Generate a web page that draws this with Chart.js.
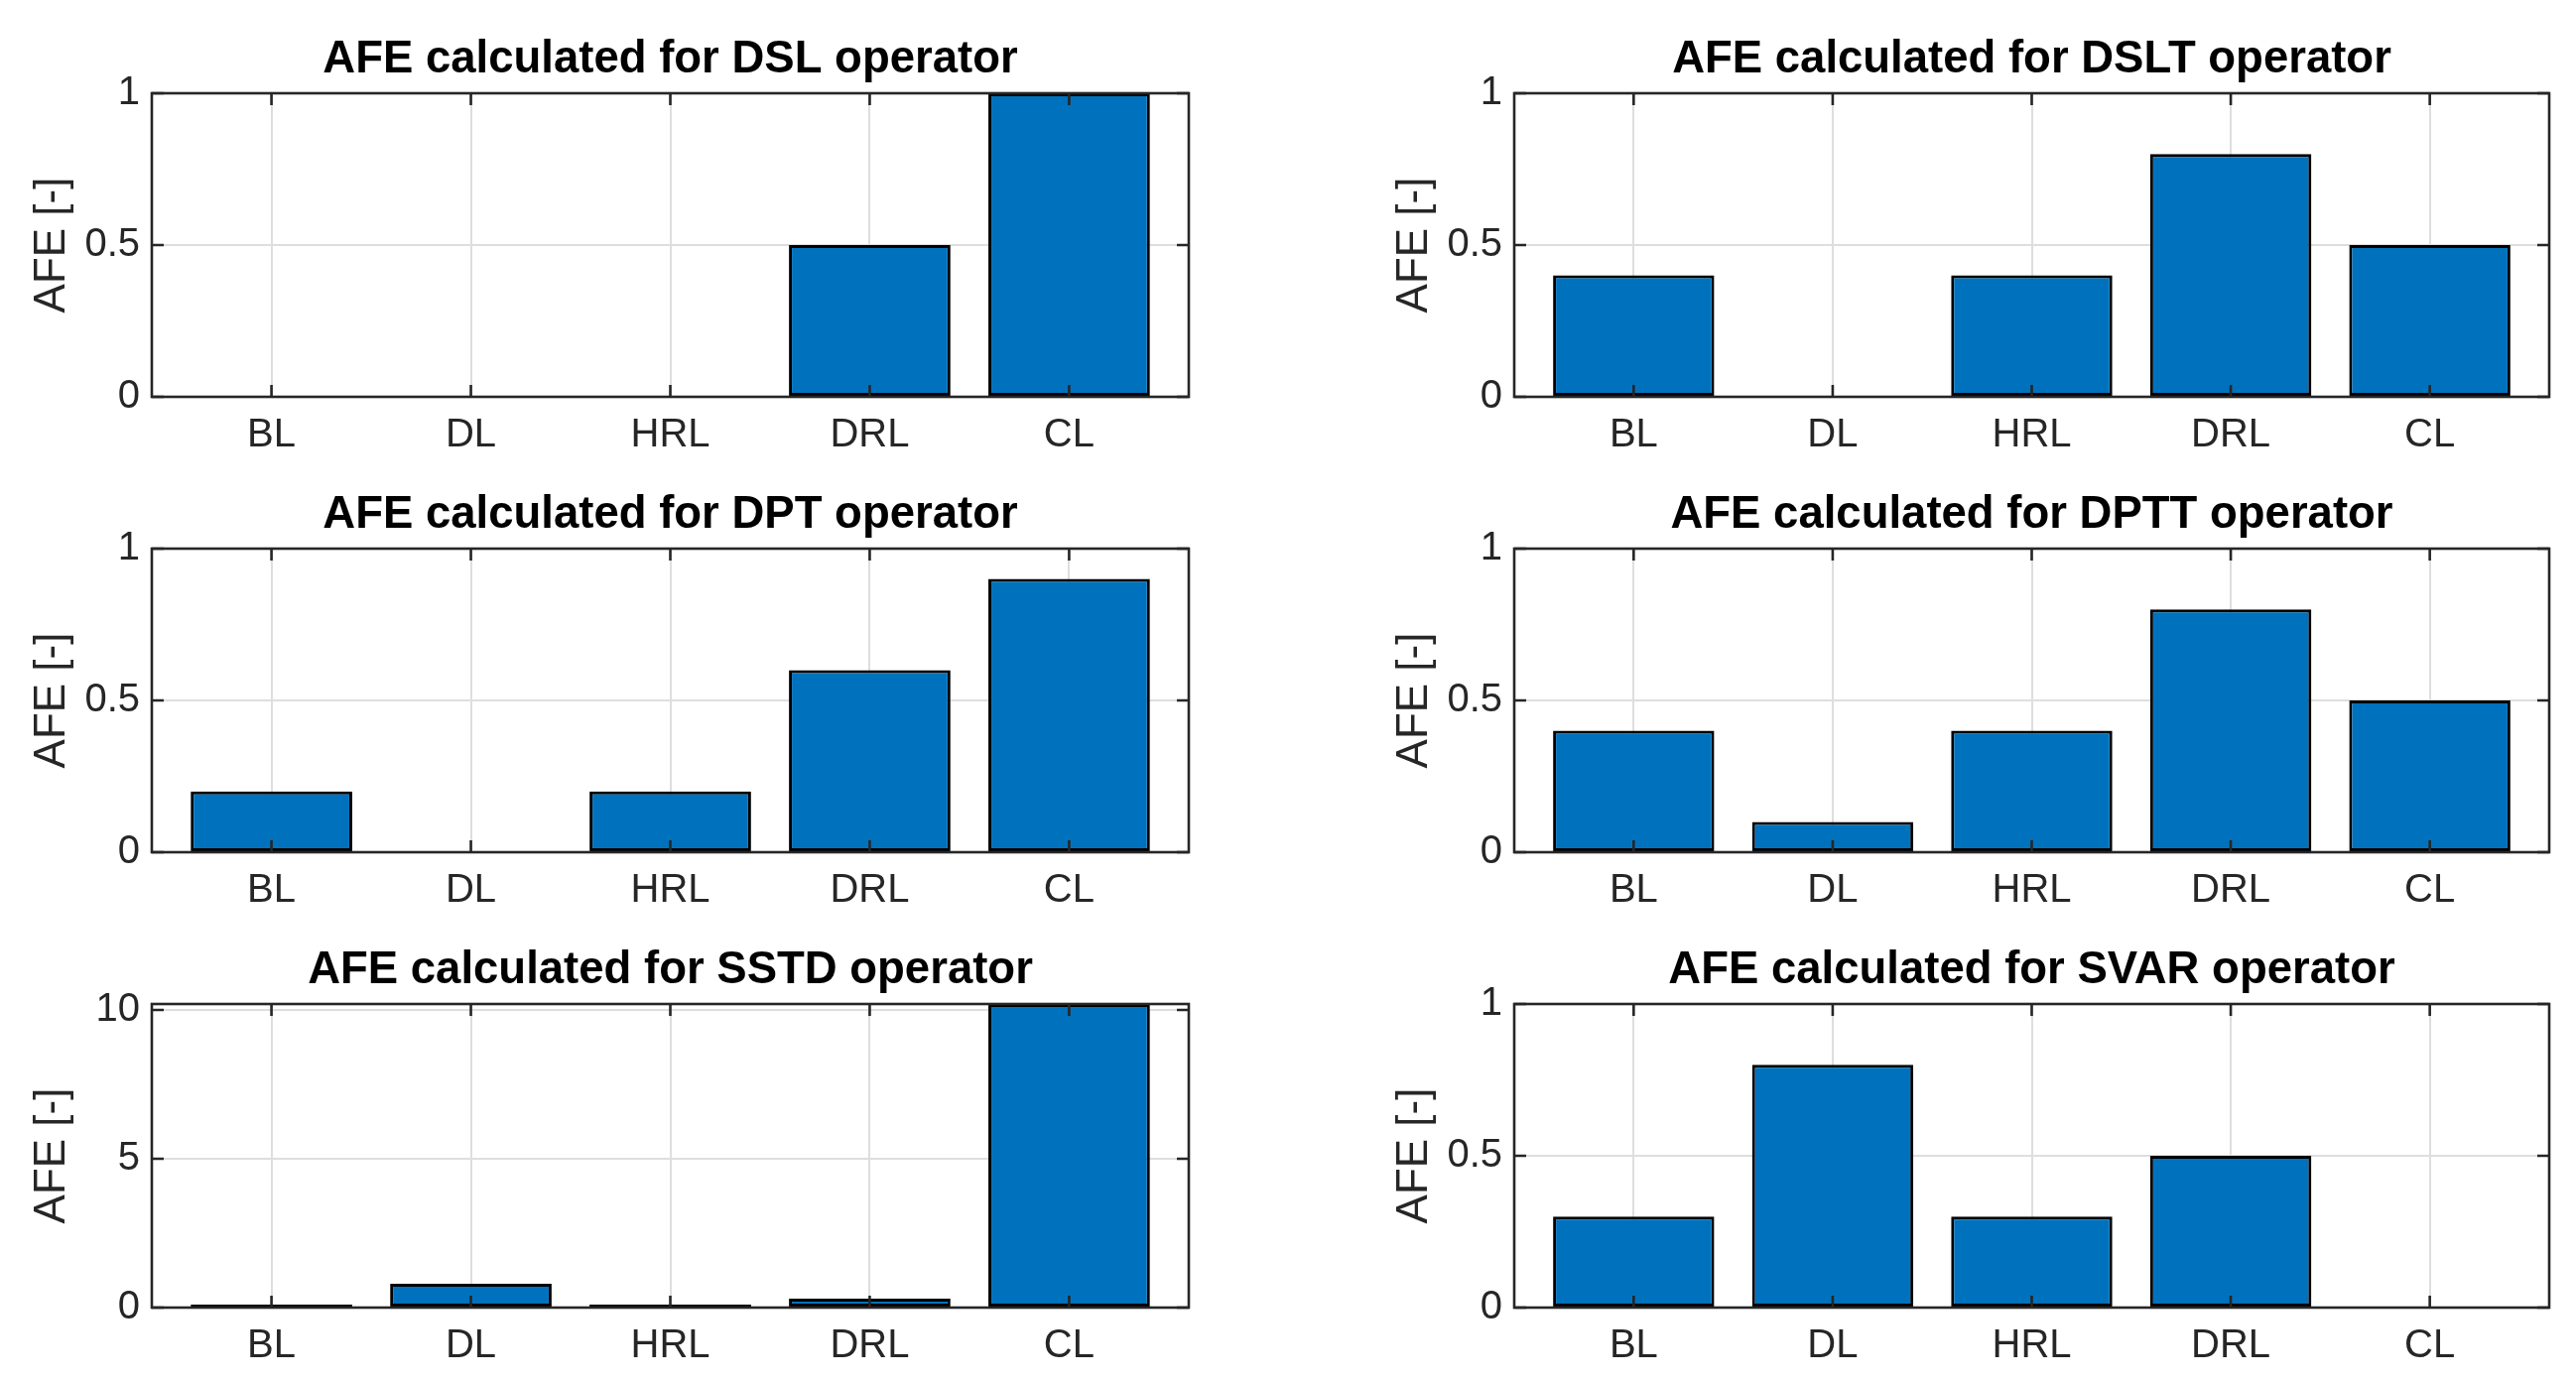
<!DOCTYPE html>
<html>
<head>
<meta charset="utf-8">
<script src="https://cdn.jsdelivr.net/npm/chart.js@4.4.1/dist/chart.umd.min.js"></script>
<style>
  html, body { margin: 0; padding: 0; background: #ffffff; }
  body { width: 2596px; height: 1392px; position: relative; overflow: hidden; }
  canvas { position: absolute; }
</style>
</head>
<body>
<script>
// ---- Data ----
const categories = ['BL', 'DL', 'HRL', 'DRL', 'CL'];
const titles = [
  'AFE calculated for DSL operator',
  'AFE calculated for DSLT operator',
  'AFE calculated for DPT operator',
  'AFE calculated for DPTT operator',
  'AFE calculated for SSTD operator',
  'AFE calculated for SVAR operator'
];
const dslValues  = [0, 0, 0, 0.5, 1];
const dsltValues = [0.4, 0, 0.4, 0.8, 0.5];
const dptValues  = [0.2, 0, 0.2, 0.6, 0.9];
const dpttValues = [0.4, 0.1, 0.4, 0.8, 0.5];
const sstdValues = [0.1, 0.8, 0.1, 0.3, 10.2];
const svarValues = [0.3, 0.8, 0.3, 0.5, 0];
const unitTicks = [0, 0.5, 1];
const sstdTicks = [0, 5, 10];
const unitMax = 1;
const sstdMax = 10.2;
const yLabel = 'AFE [-]';

const panels = [
  { title: titles[0], values: dslValues,  ticks: unitTicks, max: unitMax, col: 0, row: 0 },
  { title: titles[1], values: dsltValues, ticks: unitTicks, max: unitMax, col: 1, row: 0 },
  { title: titles[2], values: dptValues,  ticks: unitTicks, max: unitMax, col: 0, row: 1 },
  { title: titles[3], values: dpttValues, ticks: unitTicks, max: unitMax, col: 1, row: 1 },
  { title: titles[4], values: sstdValues, ticks: sstdTicks, max: sstdMax, col: 0, row: 2 },
  { title: titles[5], values: svarValues, ticks: unitTicks, max: unitMax, col: 1, row: 2 }
];

// ---- Layout / style ----
const FONT = "'Liberation Sans', Arial, Helvetica, sans-serif";
const AXIS_COLOR = '#262626';
const GRID_COLOR = '#dedede';
const BAR_COLOR = '#0072BD';
const colLeft = [0, 1373];
const colWidth = [1220, 1223];
const colPadRight = [22, 27];
const rowTop = [0, 459, 918];
const CANVAS_H = 464;
const AXIS_W = 153;   // y-axis box width -> chartArea.left
const XAXIS_H = 64;   // x-axis box height
const TOP_PAD = 94;

const boxPlugin = {
  id: 'matlabBox',
  afterDatasetsDraw(chart) {
    const ctx = chart.ctx;
    const a = chart.chartArea;
    const xs = chart.scales.x, ys = chart.scales.y;
    ctx.save();
    ctx.strokeStyle = AXIS_COLOR;
    ctx.lineWidth = 2.6;
    ctx.lineCap = 'butt';
    const tl = 12;
    ctx.beginPath();
    xs.ticks.forEach(t => {
      const px = xs.getPixelForValue(t.value);
      ctx.moveTo(px, a.bottom); ctx.lineTo(px, a.bottom - tl);
      ctx.moveTo(px, a.top); ctx.lineTo(px, a.top + tl);
    });
    ys.ticks.forEach(t => {
      const py = ys.getPixelForValue(t.value);
      ctx.moveTo(a.left, py); ctx.lineTo(a.left + tl, py);
      ctx.moveTo(a.right, py); ctx.lineTo(a.right - tl, py);
    });
    ctx.stroke();
    ctx.strokeRect(a.left, a.top, a.right - a.left, a.bottom - a.top);
    ctx.restore();
  },
  afterDraw(chart) {
    const ctx = chart.ctx;
    const a = chart.chartArea;
    const p = chart.options.plugins.matlabBox;
    ctx.save();
    // title
    ctx.fillStyle = '#000000';
    ctx.font = 'bold 45.5px ' + FONT;
    ctx.textAlign = 'center';
    ctx.textBaseline = 'alphabetic';
    ctx.fillText(p.title, (a.left + a.right) / 2, a.top - 21);
    // y label
    ctx.fillStyle = AXIS_COLOR;
    ctx.font = '44px ' + FONT;
    ctx.translate(a.left - 88, (a.top + a.bottom) / 2);
    ctx.rotate(-Math.PI / 2);
    ctx.textAlign = 'center';
    ctx.textBaseline = 'alphabetic';
    ctx.fillText(p.ylabel, 0, 0);
    ctx.restore();
  }
};

panels.forEach(pn => {
  const cv = document.createElement('canvas');
  const w = colWidth[pn.col];
  cv.width = w; cv.height = CANVAS_H;
  cv.style.left = colLeft[pn.col] + 'px';
  cv.style.top = rowTop[pn.row] + 'px';
  cv.style.width = w + 'px';
  cv.style.height = CANVAS_H + 'px';
  document.body.appendChild(cv);

  new Chart(cv.getContext('2d'), {
    type: 'bar',
    data: {
      datasets: [{
        data: pn.values.map((v, i) => ({ x: i + 1, y: v })),
        backgroundColor: BAR_COLOR,
        borderColor: '#000000',
        borderWidth: 3,
        borderSkipped: false,
        categoryPercentage: 0.81,
        barPercentage: 1.0
      }]
    },
    options: {
      responsive: false,
      animation: false,
      devicePixelRatio: 1,
      layout: { padding: { top: TOP_PAD, left: 0, right: colPadRight[pn.col], bottom: 0 } },
      plugins: {
        legend: { display: false },
        tooltip: { enabled: false },
        title: { display: false },
        matlabBox: { title: pn.title, ylabel: yLabel }
      },
      scales: {
        x: {
          type: 'linear',
          min: 0.4,
          max: 5.6,
          offset: false,
          afterBuildTicks: s => { s.ticks = categories.map((c, i) => ({ value: i + 1 })); },
          afterFit: s => { s.height = XAXIS_H; },
          ticks: {
            autoSkip: false,
            maxRotation: 0,
            minRotation: 0,
            padding: 15,
            color: AXIS_COLOR,
            font: { family: FONT, size: 40 },
            callback: v => categories[Math.round(v) - 1]
          },
          grid: { color: GRID_COLOR, lineWidth: 2, drawTicks: false, offset: false },
          border: { display: false }
        },
        y: {
          type: 'linear',
          min: 0,
          max: pn.max,
          afterBuildTicks: s => { s.ticks = pn.ticks.map(v => ({ value: v })); },
          afterFit: s => { s.width = AXIS_W; },
          ticks: {
            padding: 12,
            color: AXIS_COLOR,
            font: { family: FONT, size: 40 },
            callback: v => String(v)
          },
          grid: { color: GRID_COLOR, lineWidth: 2, drawTicks: false, offset: false },
          border: { display: false }
        }
      }
    },
    plugins: [boxPlugin]
  });
});
</script>
</body>
</html>
